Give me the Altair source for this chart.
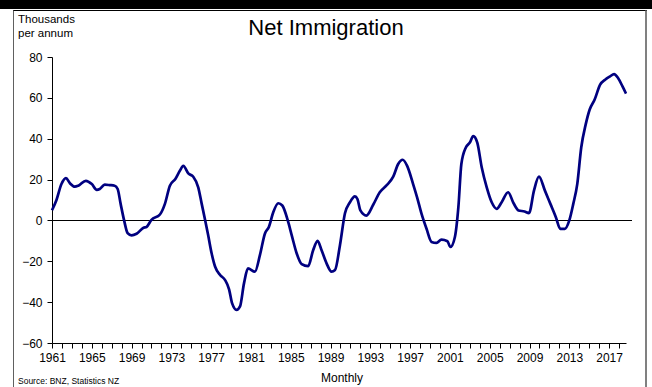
import altair as alt
import pandas as pd

# Data (decimal year, thousands per annum)
years = [1961.0, 1961.45, 1961.95, 1962.4, 1962.8, 1963.3, 1963.65, 1964.4, 1965.0, 1965.5,
         1965.8, 1966.3, 1966.8, 1967.3, 1967.6, 1967.9, 1968.25, 1968.6, 1969.0, 1969.5,
         1970.2, 1970.5, 1971.0, 1971.85, 1972.35, 1972.85, 1973.4, 1973.85, 1974.2, 1974.7,
         1975.2, 1975.7, 1976.05, 1976.4, 1976.7, 1977.05, 1977.4, 1977.9, 1978.4, 1978.8,
         1979.1, 1979.55, 1979.9, 1980.3, 1980.7, 1981.4, 1981.9, 1982.4, 1982.8, 1983.25,
         1983.75, 1984.15, 1984.7, 1985.1, 1985.6, 1986.1, 1986.75, 1987.25, 1987.7, 1988.1,
         1988.6, 1989.1, 1989.45, 1989.95, 1990.45, 1990.95, 1991.45, 1991.7, 1992.0, 1992.6,
         1993.3, 1993.95, 1994.6, 1995.3, 1995.8, 1996.25, 1996.7, 1997.3, 1997.7, 1998.15,
         1998.65, 1999.15, 1999.65, 2000.15, 2000.75, 2001.05, 2001.5, 2001.85, 2002.15, 2002.6,
         2003.0, 2003.35, 2003.75, 2004.2, 2004.7, 2005.2, 2005.7, 2006.2, 2006.85, 2007.4,
         2007.9, 2008.5, 2008.95, 2009.45, 2009.95, 2010.55, 2011.1, 2011.65, 2012.1, 2012.55,
         2013.0, 2013.4, 2013.8, 2014.2, 2014.65, 2015.05, 2015.55, 2016.1, 2016.6, 2017.1,
         2017.5, 2017.9, 2018.35, 2018.7]
values = [5, 10, 17.8, 20.7, 18.2, 16.5, 17, 19.4, 17.8, 15,
          15.4, 17.5, 17.3, 17, 15.4, 8.1, 0, -6.2, -7.3, -6.5,
          -3.6, -3.2, 0.3, 2.9, 8.1, 17, 20.3, 24.3, 26.7, 23,
          21.4, 16.2, 8.1, 0, -7.3, -16.2, -22.7, -26.7, -29.2, -33.7,
          -40.5, -43.8, -42.1, -30.8, -23.5, -25.1, -17, -6.5, -3.2, 4.1,
          8.4, 7.3, 0, -7.3, -16.2, -21.4, -22.4, -14.6, -10, -14.6,
          -21, -25.1, -24.3, -12, 3.5, 8.9, 11.8, 10.5, 4.9, 2.4,
          7.8, 13.8, 17, 21.4, 27.6, 29.7, 26.7, 17.8, 11.3, 3.2,
          -4.1, -10.5, -11, -9.4, -10.2, -13, -8.1, 6.5, 27.6, 35.7,
          38.1, 41.3, 38.1, 25.9, 16.2, 8.9, 5.7, 8.9, 13.8, 8.4,
          4.9, 4.4, 3.6, 14.6, 21.4, 14.6, 8.1, 1.6, -4.1, -4.1,
          0, 8.1, 17.8, 35.7, 47, 54.3, 59.2, 66.5, 68.9, 70.5,
          71.6, 69.7, 65.6, 62.1]

x_tick_values = list(range(1961, 2019))
y_tick_values = [-60, -40, -20, 0, 20, 40, 60, 80]
title_text = ["Net Immigration"]
unit_line1 = ["Thousands"]
unit_line2 = ["per annum"]
source_text = ["Source: BNZ, Statistics NZ"]
xlabel_text = ["Monthly"]

FONT = "Liberation Sans"
df = pd.DataFrame({"year": years, "value": values})

x_enc = alt.X("year:Q",
              scale=alt.Scale(domain=[1961, 2018.7], nice=False, zero=False),
              axis=alt.Axis(values=x_tick_values, format="d", title=None,
                            labelExpr="(datum.value - 1961) % 4 == 0 ? datum.label : ''",
                            labelOverlap=False, labelFlush=False, grid=False,
                            tickSize=5, labelPadding=4, labelFontSize=12,
                            labelFont=FONT, labelColor="black", domainColor="black",
                            tickColor="black"))
y_enc = alt.Y("value:Q",
              scale=alt.Scale(domain=[-60, 80], nice=False, zero=False),
              axis=alt.Axis(values=y_tick_values, title=None, grid=False,
                            tickSize=5, labelPadding=5, labelFontSize=12,
                            labelFont=FONT, labelColor="black", domainColor="black",
                            tickColor="black"))

line = alt.Chart(df).mark_line(color="#000080", strokeWidth=2.7,
                               interpolate="monotone").encode(x=x_enc, y=y_enc)


def one():
    return alt.Chart(pd.DataFrame({"a": [0]}))


def label(texts, size, align, x, y):
    return alt.Chart(pd.DataFrame({"t": texts})).mark_text(
        font=FONT, fontSize=size, color="black", align=align,
        baseline="alphabetic").encode(text="t:N", x=alt.value(x), y=alt.value(y))


zero = one().mark_rule(color="black", strokeWidth=1).encode(
    x=alt.value(0), x2=alt.value(580), y=alt.value(163.5))

band = one().mark_rect(color="black").encode(
    x=alt.value(-52), x2=alt.value(600), y=alt.value(-57), y2=alt.value(-48))
topline = one().mark_rule(color="black", strokeWidth=1).encode(
    x=alt.value(-39), x2=alt.value(595), y=alt.value(-46.5))
leftline = one().mark_rule(color="#606060", strokeWidth=1).encode(
    x=alt.value(-38.5), y=alt.value(-46.5), y2=alt.value(340))
rightline = one().mark_rule(color="#808080", strokeWidth=2).encode(
    x=alt.value(594), y=alt.value(-46.5), y2=alt.value(340))

title = label(title_text, 22, "center", 274, -22)
unit1 = label(unit_line1, 11.5, "left", -34, -34)
unit2 = label(unit_line2, 11.5, "left", -34, -20.5)
source = label(source_text, 8.5, "left", -34, 327)
xlabel = label(xlabel_text, 12, "center", 290, 325)

chart = alt.layer(band, topline, leftline, rightline, zero, line,
                  title, unit1, unit2, source, xlabel).properties(
    width=574, height=286,
    autosize=alt.AutoSizeParams(type="none"),
    padding={"left": 52, "top": 57, "right": 26, "bottom": 44},
    background="white",
).configure_view(strokeWidth=0)

chart.save("out.html", embed_options={"renderer": "svg", "actions": False})
